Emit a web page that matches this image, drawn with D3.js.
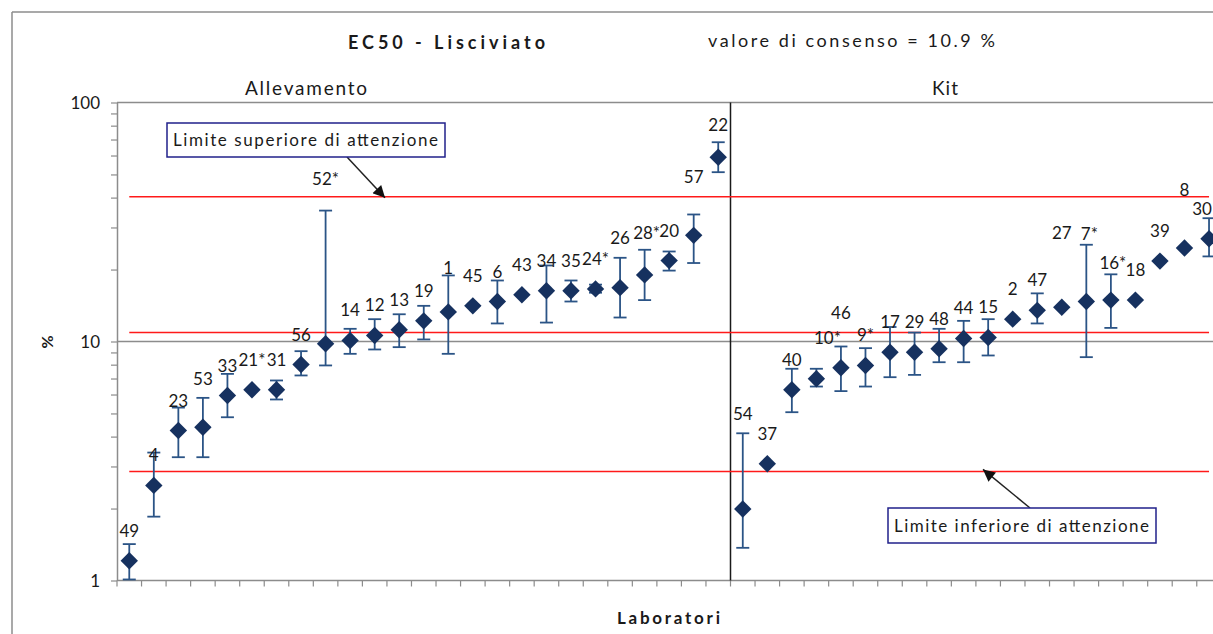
<!DOCTYPE html>
<html>
<head>
<meta charset="utf-8">
<script src="https://cdn.jsdelivr.net/npm/d3@7"></script>
<style>
  html, body { margin: 0; padding: 0; background: #fff; }
  svg { display: block; }
  text { font-family: Lato, "Open Sans", "DejaVu Sans", sans-serif; fill: #1a1a1a; }
</style>
</head>
<body>
<script>
// ---------------- DATA ----------------
const groupNames = ["Allevamento", "Kit"];

const labsAllevamento = ["49","4","23","53","33","21*","31","56","52*","14","12","13","19","1","45","6","43","34","35","24*","26","28*","20","57","22"];
const valsAllevamento = [1.21,2.50,4.24,4.38,5.94,6.28,6.28,8.01,9.78,10.1,10.6,11.2,12.2,13.3,14.1,14.7,15.7,16.3,16.3,16.6,16.8,19.0,21.8,27.8,59.0];
const lowAllevamento  = [1.01,1.85,3.28,3.28,4.82,null,5.72,7.21,7.94,8.88,9.26,9.47,10.2,8.88,null,11.9,null,12.0,14.7,16.0,12.6,14.9,19.8,21.3,51.1];
const highAllevamento = [1.42,3.43,5.29,5.81,7.32,null,6.87,9.11,35.3,11.3,12.4,13.0,14.1,18.9,null,18.0,null,20.8,18.0,17.3,22.4,24.2,23.8,34.0,68.2];

const labsKit = ["54","37","40","10*","46","9*","17","29","48","44","15","2","47","27","7*","16*","18","39","8","30"];
const valsKit = [1.99,3.08,6.28,6.98,7.76,7.94,9.02,9.02,9.32,10.3,10.4,12.4,13.5,13.9,14.7,14.9,14.9,21.7,24.6,26.9];
const lowKit  = [1.37,null,5.06,6.48,6.20,6.48,7.09,7.25,8.19,8.19,8.74,null,11.9,null,8.60,11.4,null,null,null,22.7];
const highKit = [4.13,null,7.69,7.69,9.53,9.38,11.5,10.9,11.3,12.2,12.4,null,15.9,null,25.4,19.1,null,null,null,32.8];

const consensus = 10.9;
const upperLimit = 40.3;
const lowerLimit = 2.86;

const yTickLabels = [1, 10, 100];
const chartTitle = "EC50 - Lisciviato";
const consensusText = "valore di consenso = 10.9 %";
const upperNote = "Limite superiore di attenzione";
const lowerNote = "Limite inferiore di attenzione";
const xTitle = "Laboratori";
const yTitle = "%";

// ---------------- LAYOUT ----------------
const W = 1213, H = 634;
const plotLeft = 117, plotTop = 102.5, plotBottom = 580.5, bandW = 24.54;

const rows = [];
labsAllevamento.forEach((l, i) => rows.push({lab: l, v: valsAllevamento[i], lo: lowAllevamento[i], hi: highAllevamento[i], g: 0}));
labsKit.forEach((l, i) => rows.push({lab: l, v: valsKit[i], lo: lowKit[i], hi: highKit[i], g: 1}));

const x = d3.scaleBand().domain(rows.map(d => d.lab))
  .range([plotLeft, plotLeft + rows.length * bandW]).padding(0);
const y = d3.scaleLog().domain([1, 100]).range([plotBottom, plotTop]);
const cx = lab => x(lab) + x.bandwidth() / 2;

const svg = d3.select("body").append("svg").attr("width", W).attr("height", H);
svg.append("rect").attr("width", W).attr("height", H).attr("fill", "#fff");

const gray = "#8c8c8c";
// outer chart border
svg.append("line").attr("x1", 12).attr("x2", W).attr("y1", 12).attr("y2", 12).attr("stroke", gray).attr("stroke-width", 1.5);
svg.append("line").attr("x1", 12).attr("x2", 12).attr("y1", 12).attr("y2", H).attr("stroke", gray).attr("stroke-width", 1.5);

// gridlines at major decades (10 and 100)
const xEnd = x.range()[1];
svg.selectAll("line.grid").data([10, 100]).enter().append("line")
  .attr("class", "grid")
  .attr("x1", plotLeft).attr("x2", xEnd)
  .attr("y1", d => y(d)).attr("y2", d => y(d))
  .attr("stroke", gray).attr("stroke-width", 1.5);

// Y axis
const minorTicks = [];
[1, 10].forEach(dec => { for (let k = 1; k < 10; k++) minorTicks.push(dec * k); });
minorTicks.push(100);
const yAxis = d3.axisLeft(y).tickValues(minorTicks).tickSize(6).tickSizeOuter(0)
  .tickFormat(d => yTickLabels.includes(d) ? String(d) : "");
const gy = svg.append("g").attr("transform", `translate(${plotLeft},0)`).call(yAxis);
gy.select(".domain").attr("stroke", gray).attr("stroke-width", 1.5);
gy.selectAll(".tick line").attr("stroke", gray).attr("stroke-width", 1.2);
gy.selectAll(".tick text").attr("font-size", 17).attr("x", -17).attr("dy", "0.35em")
  .style("font-family", "Lato, sans-serif").attr("fill", "#1a1a1a");

// X axis (ticks at band boundaries)
const xAxis = d3.axisBottom(x).tickSize(0).tickFormat("");
const gx = svg.append("g").attr("transform", `translate(0,${plotBottom})`).call(xAxis);
gx.select(".domain").attr("d", `M${plotLeft},0H${xEnd}`).attr("stroke", gray).attr("stroke-width", 1.5);
gx.selectAll("line.bt").data(rows.map(d => d.lab)).enter().append("line")
  .attr("class", "bt")
  .attr("x1", d => x(d)).attr("x2", d => x(d)).attr("y1", 0).attr("y2", 6)
  .attr("stroke", gray).attr("stroke-width", 1.2);

// group divider
const divX = x(labsKit[0]);
svg.append("line").attr("x1", divX).attr("x2", divX).attr("y1", plotTop).attr("y2", plotBottom)
  .attr("stroke", "#1a1a1a").attr("stroke-width", 1.5);

// limit lines (consensus, upper, lower) from first to last category centre
const firstX = cx(rows[0].lab), lastX = cx(rows[rows.length - 1].lab);
svg.selectAll("line.lim").data([upperLimit, consensus, lowerLimit]).enter().append("line")
  .attr("class", "lim")
  .attr("x1", firstX).attr("x2", lastX)
  .attr("y1", d => y(d)).attr("y2", d => y(d))
  .attr("stroke", "#ff1a1a").attr("stroke-width", 1.5);

// error bars
const errColor = "#2b5486";
const eb = svg.append("g");
rows.filter(d => d.lo != null && d.hi != null).forEach(d => {
  const px = cx(d.lab);
  eb.append("line").attr("x1", px).attr("x2", px).attr("y1", y(d.hi)).attr("y2", y(d.lo))
    .attr("stroke", errColor).attr("stroke-width", 1.8);
  [d.hi, d.lo].forEach(v => {
    eb.append("line").attr("x1", px - 6.5).attr("x2", px + 6.5).attr("y1", y(v)).attr("y2", y(v))
      .attr("stroke", errColor).attr("stroke-width", 1.8);
  });
});

// diamonds
const dm = 8.7;
svg.append("g").selectAll("path").data(rows).enter().append("path")
  .attr("d", `M0,${-dm}L${dm},0L0,${dm}L${-dm},0Z`)
  .attr("transform", d => `translate(${cx(d.lab)},${y(d.v)})`)
  .attr("fill", "#16315f");

// data labels (manually lifted ones like in the original)
const lift = {"53":48, "52*":165, "1":44, "26":50, "28*":42, "57":58, "22":32,
              "54":95, "10*":41, "46":55, "27":74, "7*":68, "16*":37, "8":58};
const nudgeX = {"10*": 11, "28*": 2, "7*": 3, "16*": 2, "30": -7};
svg.append("g").selectAll("text").data(rows).enter().append("text")
  .attr("x", d => cx(d.lab) + (nudgeX[d.lab] || 0))
  .attr("y", d => y(d.v) - (lift[d.lab] || 30) + 6)
  .attr("text-anchor", "middle").attr("font-size", 17)
  .text(d => d.lab);

// titles
svg.append("text").attr("x", 348).attr("y", 49).attr("font-size", 18).attr("font-weight", "bold")
  .attr("textLength", 197).attr("lengthAdjust", "spacing").text(chartTitle);
svg.append("text").attr("x", 708).attr("y", 47).attr("font-size", 18)
  .attr("textLength", 287).attr("lengthAdjust", "spacing").text(consensusText);
svg.append("text").attr("x", 245).attr("y", 94.5).attr("font-size", 19)
  .attr("textLength", 122).attr("lengthAdjust", "spacing").text(groupNames[0]);
svg.append("text").attr("x", 932).attr("y", 94.5).attr("font-size", 19)
  .attr("textLength", 26).attr("lengthAdjust", "spacing").text(groupNames[1]);
svg.append("text").attr("x", 617).attr("y", 624).attr("font-size", 17).attr("font-weight", "bold")
  .attr("textLength", 103).attr("lengthAdjust", "spacing").text(xTitle);
svg.append("text").attr("transform", "translate(53,342) rotate(-90)")
  .attr("text-anchor", "middle").attr("font-size", 16).attr("font-weight", "bold").text(yTitle);

// annotation boxes with arrows
svg.append("defs").append("marker").attr("id", "ah")
  .attr("viewBox", "0 0 10 10").attr("refX", 10).attr("refY", 5)
  .attr("markerWidth", 14).attr("markerHeight", 12).attr("markerUnits", "userSpaceOnUse")
  .attr("orient", "auto")
  .append("path").attr("d", "M0,0L10,5L0,10Z").attr("fill", "#111");

function note(txt, bx, by, bw, bh, ax1, ay1, ax2, ay2) {
  svg.append("line").attr("x1", ax1).attr("y1", ay1).attr("x2", ax2).attr("y2", ay2)
    .attr("stroke", "#222").attr("stroke-width", 1.5).attr("marker-end", "url(#ah)");
  svg.append("rect").attr("x", bx).attr("y", by).attr("width", bw).attr("height", bh)
    .attr("fill", "#fff").attr("stroke", "#20208a").attr("stroke-width", 1.5);
  svg.append("text").attr("x", bx + 6).attr("y", by + bh / 2 + 6).attr("font-size", 17)
    .attr("textLength", bw - 13).attr("lengthAdjust", "spacing").text(txt);
}
note(upperNote, 167, 123, 278, 34, 347, 157, 385, y(upperLimit) + 1);
note(lowerNote, 888, 508, 268, 35, 1030, 508, 983, y(lowerLimit) - 2);
</script>
</body>
</html>
